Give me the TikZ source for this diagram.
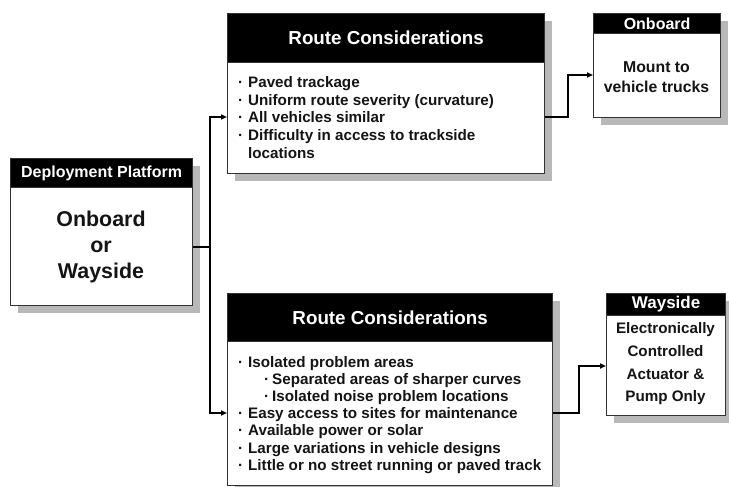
\documentclass[tikz,border=0pt]{standalone}
\usepackage{fontspec}
\setmainfont{Liberation Sans}
\usetikzlibrary{arrows.meta,shadows}
\newcommand\bul{\makebox[10pt][l]{·}}
\newcommand\sbul{\hspace*{26pt}\makebox[8pt][l]{·}}
\newcommand\cont{\hspace*{10pt}}
\begin{document}
\begin{tikzpicture}[x=1pt,y=-1pt,
  box/.style={draw=black!80, line width=1.2pt, fill=white, anchor=north west, inner sep=0pt,
    drop shadow={shadow xshift=7pt, shadow yshift=-7pt, fill=black!28, opacity=1}},
  hdr/.style={fill=black, draw=black!80, line width=1.2pt, anchor=north west, inner sep=0pt, text=white},
  body/.style={anchor=base west, inner sep=0pt, text=black!92, font=\fontsize{15.2}{17.5}\selectfont\bfseries},
  ctext/.style={inner sep=0pt, align=center, text=black!92},
  conn/.style={line width=1.6pt, draw=black},
  arr/.style={conn, -{Triangle[length=6pt,width=5pt]}}]
\useasboundingbox (0,0) rectangle (729,487);

% Deployment platform
\node[box, minimum width=182pt, minimum height=147pt] (dp) at (10,158) {};
\node[hdr, minimum width=182pt, minimum height=29pt, font=\fontsize{16}{18}\selectfont\bfseries] (dph) at (10,158) {Deployment Platform};
\node[ctext, font=\fontsize{21.4}{26}\selectfont\bfseries] (dpt) at (101,247) {Onboard\\or\\Wayside};

% Route considerations top
\node[box, minimum width=317pt, minimum height=160pt] (rc1) at (227,13) {};
\node[hdr, minimum width=317pt, minimum height=49pt, font=\fontsize{18.8}{21}\selectfont\bfseries] (rc1h) at (227,13) {Route Considerations};
\foreach \t [count=\i] in {\bul Paved trackage, \bul Uniform route severity (curvature), \bul All vehicles similar, \bul Difficulty in access to trackside, \cont locations}
  \node[body] (ta\i) at (238,{88+17.5*(\i-1)}) {\t};

% Route considerations bottom
\node[box, minimum width=325pt, minimum height=192pt] (rc2) at (227,293) {};
\node[hdr, minimum width=325pt, minimum height=48pt, font=\fontsize{18.8}{21}\selectfont\bfseries] (rc2h) at (227,293) {Route Considerations};
\foreach \t [count=\i] in {\bul Isolated problem areas, \sbul Separated areas of sharper curves, \sbul Isolated noise problem locations, \bul Easy access to sites for maintenance, \bul Available power or solar, \bul Large variations in vehicle designs, \bul Little or no street running or paved track}
  \node[body] (tb\i) at (238,{367+17.2*(\i-1)}) {\t};

% Onboard
\node[box, minimum width=127pt, minimum height=104pt] (ob) at (593,13) {};
\node[hdr, minimum width=127pt, minimum height=20pt, font=\fontsize{16}{18}\selectfont\bfseries] (obh) at (593,13) {Onboard};
\node[ctext, font=\fontsize{15.8}{20}\selectfont\bfseries] (obt) at (656.5,77) {Mount to\\vehicle trucks};

% Wayside
\node[box, minimum width=119pt, minimum height=122pt] (ws) at (606,293) {};
\node[hdr, minimum width=119pt, minimum height=22pt, font=\fontsize{17}{19}\selectfont\bfseries] (wsh) at (606,293) {Wayside};
\node[ctext, font=\fontsize{15.2}{22.7}\selectfont\bfseries] (wst) at (665.5,364) {Electronically\\Controlled\\Actuator \&\\Pump Only};

% connectors
\coordinate (j) at (210,247);
\coordinate (y1) at (0,117);
\coordinate (y2) at (0,413);
\coordinate (k1) at (568,117);
\coordinate (k1t) at (568,75);
\coordinate (k2) at (579,413);
\coordinate (k2t) at (579,366);
\draw[conn] (dp.east |- j) -- (j);
\draw[arr] (j) |- (rc1.west |- y1);
\draw[arr] (j) |- (rc2.west |- y2);
\draw[arr] (rc1.east |- y1) -- (k1) -- (k1t) -- (ob.west |- k1t);
\draw[arr] (rc2.east |- y2) -- (k2) -- (k2t) -- (ws.west |- k2t);
\end{tikzpicture}
\end{document}
